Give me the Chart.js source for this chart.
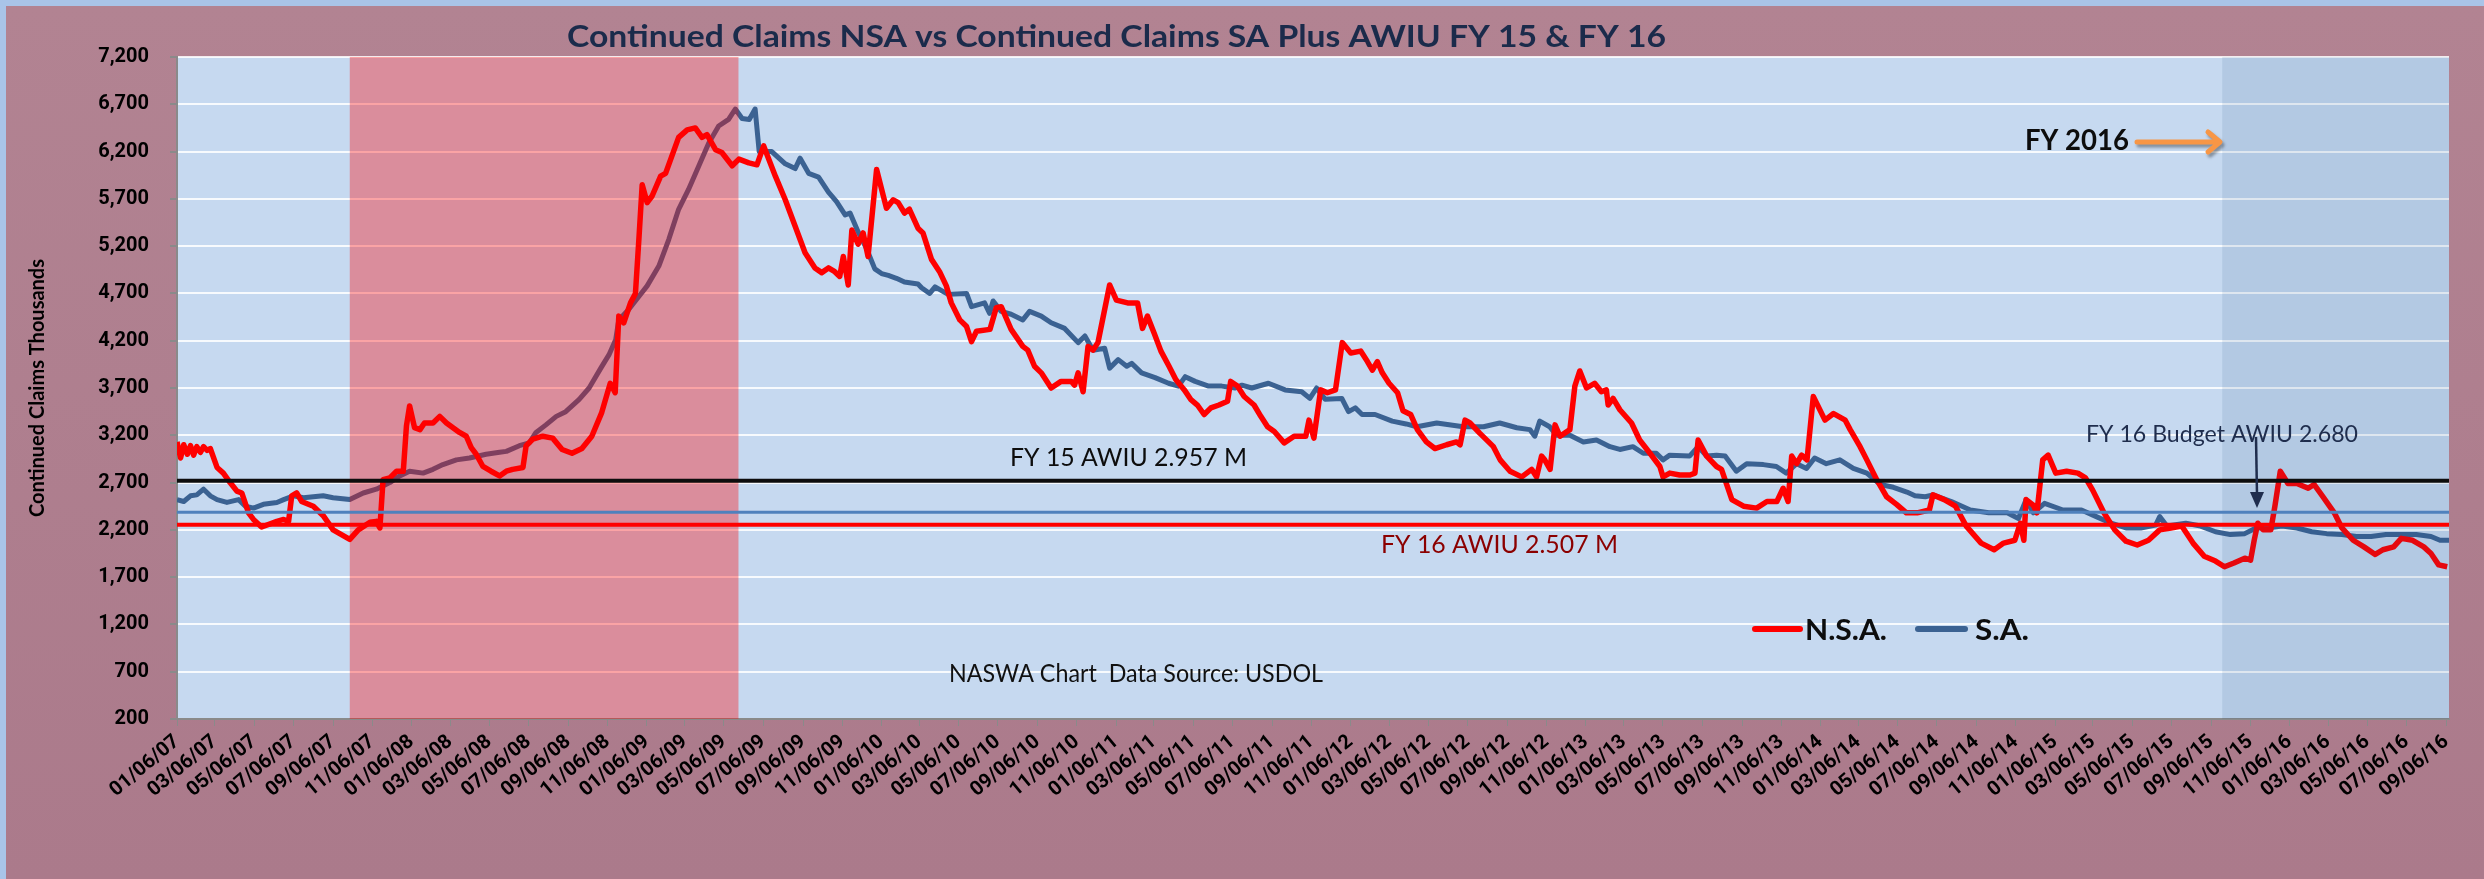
<!DOCTYPE html>
<html>
<head>
<meta charset="utf-8">
<script src="https://cdn.jsdelivr.net/npm/chart.js@4.4.1/dist/chart.umd.min.js"></script>
<style>
  html, body { margin: 0; padding: 0; background: #a9c4e8; overflow: hidden; }
  canvas { display: block; }
</style>
</head>
<body>
<canvas id="claims" width="2484" height="879"></canvas>
<script>
'use strict';
// ---------- Continued claims NSA vs SA, with AWIU reference lines ----------
// Values are thousands of claims.
// Positions on the time axis are weeks counted from 01/06/07.

const xTickLabels = [
    '01/06/07', '03/06/07', '05/06/07', '07/06/07', '09/06/07', '11/06/07',
    '01/06/08', '03/06/08', '05/06/08', '07/06/08', '09/06/08', '11/06/08',
    '01/06/09', '03/06/09', '05/06/09', '07/06/09', '09/06/09', '11/06/09',
    '01/06/10', '03/06/10', '05/06/10', '07/06/10', '09/06/10', '11/06/10',
    '01/06/11', '03/06/11', '05/06/11', '07/06/11', '09/06/11', '11/06/11',
    '01/06/12', '03/06/12', '05/06/12', '07/06/12', '09/06/12', '11/06/12',
    '01/06/13', '03/06/13', '05/06/13', '07/06/13', '09/06/13', '11/06/13',
    '01/06/14', '03/06/14', '05/06/14', '07/06/14', '09/06/14', '11/06/14',
    '01/06/15', '03/06/15', '05/06/15', '07/06/15', '09/06/15', '11/06/15',
    '01/06/16', '03/06/16', '05/06/16', '07/06/16', '09/06/16',
];
const lastDate = '09/10/16';

// N.S.A. (not seasonally adjusted)
const nsaWeeks = [
    0, 0.8, 1.5, 2.3, 3, 3.7, 4.4, 5.2, 5.9, 6.7, 7.4, 8.9, 10.3, 11.8, 13.3, 14.4, 15.9, 17, 18.8,
    22.2, 23.7, 24.8, 25.5, 26.6, 27.7, 30.3, 32.5, 34.7, 38.4, 40.3, 42.9, 44.3, 45.1, 45.8, 47.3,
    48.8, 50.3, 51, 51.7, 52.8, 54, 55, 56.9, 58.4, 59.9, 62.8, 64.3, 65.4, 66.5, 68, 69.8, 71.7,
    73.2, 74.6, 76.9, 77.6, 79.1, 81.3, 83.5, 85.6, 87.8, 90, 92.2, 94.4, 96.3, 97.4, 98.2, 99.3,
    100.8, 101.9, 102.7, 103.4, 104.5, 105.6, 107.5, 108.6, 111.5, 113.4, 115.2, 116.7, 117.8,
    119.7, 121.1, 123.4, 124.9, 127.1, 128.9, 130.4, 133, 135.2, 137.4, 139.6, 141.8, 143.3, 144.8,
    146.2, 147.3, 148.1, 149.2, 150, 151.4, 152.5, 153.6, 155.5, 157.7, 159.2, 160.3, 161.7, 162.8,
    164.7, 165.8, 167.7, 169.5, 171, 172.1, 174, 175.5, 176.6, 177.7, 180.7, 182.1, 183.2, 185.4,
    188, 189.1, 190.6, 192.1, 194.3, 196.5, 198.8, 199.5, 200.3, 201.4, 202.5, 203.6, 204.7, 207.3,
    208.8, 211.3, 213.5, 214.6, 215.7, 217.2, 218.7, 220.5, 222, 223.9, 225.3, 226.8, 228.3, 229.8,
    231.6, 233.5, 234.2, 235.7, 237.2, 239.4, 240.9, 242.4, 243.9, 246.1, 248.3, 250.9, 251.6,
    252.7, 254.2, 255.7, 257.5, 259, 260.9, 263.1, 264.6, 265.7, 266.8, 267.9, 269.4, 271.3, 272.5,
    274.2, 275.7, 277.7, 279.6, 282.2, 284.4, 285.2, 286.3, 287.4, 289.6, 292.6, 294.1, 296.3,
    298.9, 301.1, 302.2, 303.3, 304, 305.2, 306.3, 307.4, 309.6, 310.7, 311.8, 313.3, 315.1, 316.6,
    317.7, 318.1, 319.2, 320.7, 323.3, 325.1, 327.4, 329.6, 330.3, 331.8, 334, 336.3, 337.4, 338.1,
    340, 342.2, 343.3, 345.6, 348.2, 351.1, 353.4, 355.6, 357, 358.1, 358.9, 360, 361.1, 362.3,
    363.7, 366.3, 368.2, 370.8, 371.9, 374.1, 375.6, 377.8, 380, 382.2, 384.4, 386.8, 389.5, 390.3,
    392.8, 395.3, 397.7, 401, 403.9, 406, 408.5, 409.7, 410.5, 411, 412.6, 413.4, 414.7, 415.9,
    417.6, 420, 422.5, 424.2, 425.8, 428.3, 430.7, 433.2, 435.7, 438.2, 440.7, 443.2, 445.6, 448.1,
    450.6, 453.1, 455.1, 457.2, 459.6, 460.9, 461.7, 462.5, 463.7, 465.4, 466.3, 467.5, 469.2,
    471.2, 473.7, 475, 477, 479.5, 481.2, 483.7, 486.1, 488.6, 490.3, 492.7, 494.4, 496.9, 499.4,
    501, 502.7, 504.6,
];
const nsaValues = [
    3130, 2960, 3100, 3000, 3090, 2990, 3080, 3020, 3080, 3040, 3060, 2860, 2800, 2700, 2610, 2590, 2380, 2310, 2230,
    2290, 2310, 2290, 2560, 2590, 2500, 2450, 2350, 2200, 2100, 2200, 2280, 2290, 2220, 2730, 2750,
    2820, 2820, 3300, 3510, 3280, 3260, 3330, 3330, 3400, 3330, 3230, 3190, 3070, 3000, 2870, 2820, 2770,
    2820, 2840, 2860, 3090, 3160, 3190, 3170, 3050, 3010, 3060, 3190, 3440, 3750, 3650, 4460, 4390,
    4600, 4700, 5300, 5850, 5660, 5730, 5940, 5970, 6350, 6430, 6450, 6350, 6380,
    6220, 6190, 6050, 6120, 6080, 6060, 6260, 5940, 5690, 5410, 5130, 4970, 4920, 4970,
    4930, 4880, 5090, 4790, 5370, 5220, 5340, 5090, 6010, 5600, 5690, 5660, 5550, 5590,
    5390, 5340, 5060, 4930, 4780, 4600, 4420, 4350, 4190, 4300, 4320, 4550, 4560, 4320,
    4140, 4100, 3930, 3860, 3700, 3770, 3770, 3730, 3860, 3660, 4140, 4100, 4180, 4790,
    4630, 4600, 4600, 4330, 4460, 4280, 4090, 3930, 3790, 3680, 3580, 3520, 3420, 3490,
    3520, 3560, 3770, 3720, 3610, 3520, 3400, 3290, 3240, 3120, 3190, 3190, 3360,
    3170, 3680, 3650, 3680, 4180, 4070, 4090, 3980, 3890, 3980, 3860, 3750, 3650, 3460,
    3420, 3260, 3130, 3060, 3100, 3130, 3100, 3360, 3330, 3220, 3080, 2940, 2820,
    2760, 2840, 2760, 2980, 2940, 2840, 3310, 3190, 3260, 3720, 3880, 3700, 3750, 3660,
    3680, 3520, 3590, 3470, 3330, 3150, 3010, 2870, 2760, 2800, 2780, 2780, 2800, 3150,
    2980, 2870, 2840, 2520, 2450, 2430, 2500, 2500, 2640, 2500, 2980, 2900, 2990, 2940,
    3610, 3360, 3430, 3360, 3260, 3080, 2940, 2730, 2550, 2470, 2380, 2380, 2410, 2570,
    2520, 2450, 2240, 2060, 1990, 2060, 2090, 2270, 2090, 2520, 2460, 2380, 2940, 2990,
    2800, 2820, 2800, 2750, 2620, 2380, 2200, 2080, 2040, 2090, 2200, 2220, 2240, 2060,
    1920, 1870, 1810, 1850, 1900, 1880, 2090, 2270, 2200, 2200, 2450, 2820, 2690,
    2690, 2640, 2680, 2550, 2380, 2220, 2090, 2020, 1940, 1990, 2020, 2110, 2090, 2020,
    1950, 1830, 1810,
];

// S.A. (seasonally adjusted)
const saWeeks = [
    0, 1.5, 3, 4.4, 5.9, 7.4, 8.9, 11.1, 13.7, 15.2, 17, 19.2, 22.2, 23.7, 25.9, 28.1, 32.5, 34.7,
    38.4, 41.4, 44.3, 47.3, 49.5, 51.7, 54.7, 56.9, 59.1, 62.1, 65, 68.7, 71.7, 73.2, 76.1, 78.3,
    79.8, 82, 84.3, 86.4, 89.4, 91.6, 94.2, 96, 97.5, 98.2, 100.4, 102.7, 104.5, 107.1, 109.3, 111.5,
    113.7, 116, 118.2, 120.4, 122.6, 124.1, 125.6, 127.2, 128.5, 129.4, 132.2, 135.2, 137.4, 138.5,
    140.4, 142.6, 144.8, 146.6, 148.5, 149.6, 151.4, 153.3, 155.1, 156.6, 158.1, 159.9, 161.7,
    164.7, 165.5, 167.3, 168.5, 171.4, 175.5, 176.6, 179.5, 180.6, 181.4, 183.2, 185.4, 188, 189.5,
    192.1, 194.3, 197.3, 200.3, 201.8, 203.6, 206.2, 207.3, 209.2, 211.1, 212.2, 214.4, 217.4,
    220.4, 222.6, 224.1, 226.3, 229.3, 232.2, 235.2, 236.7, 238.9, 242.6, 246.3, 250, 251.8, 253.3,
    255.2, 258.9, 260.4, 261.9, 263.4, 266.3, 270.1, 273.2, 275.6, 280, 285.9, 290.4, 294, 297.8,
    300.7, 301.8, 302.9, 305.1, 306.6, 309.6, 312.6, 315.5, 318.5, 320.7, 323.6, 325.9, 328.8,
    330.3, 331.8, 336.2, 338.1, 340, 342.2, 344.1, 346.6, 348.9, 352.6, 355.5, 357.7, 360, 362.2,
    364, 366.6, 369.6, 372.6, 375.6, 378.6, 381.5, 384.5, 386.3, 388.6, 390.3, 394.4, 398.6, 402.7,
    406.8, 409.3, 411, 412.6, 415.1, 419.2, 423.3, 426.6, 429.9, 433.2, 436.5, 439.8, 440.7, 442.3,
    446.5, 449.8, 453.1, 456.4, 459.6, 462.1, 464.6, 467.9, 471.2, 474.5, 477.8, 481.2, 484.4,
    487.7, 491, 494.4, 497.7, 501, 503, 505,
];
const saValues = [
    2520, 2500, 2560, 2570, 2630, 2560, 2520, 2490, 2520, 2450, 2430, 2470, 2490, 2520, 2560, 2540, 2560, 2540,
    2520, 2590, 2630, 2700, 2770, 2820, 2800, 2840, 2890, 2940, 2960, 3000, 3020, 3030, 3090, 3120,
    3230, 3310, 3400, 3450, 3580, 3700, 3910, 4050, 4210, 4420, 4530, 4670, 4780, 4990, 5270, 5590,
    5800, 6050, 6290, 6470, 6540, 6650, 6550, 6540, 6650, 6200, 6200, 6070, 6020, 6130,
    5970, 5930, 5770, 5670, 5530, 5550, 5350, 5170, 4960, 4910, 4890, 4860, 4820,
    4800, 4760, 4700, 4770, 4690, 4700, 4560, 4600, 4490, 4620, 4510, 4480, 4420, 4510,
    4460, 4390, 4330, 4180, 4250, 4100, 4120, 3910, 4000, 3930, 3960, 3860, 3810,
    3750, 3720, 3820, 3770, 3720, 3720, 3700, 3730, 3700, 3750, 3680, 3660, 3590, 3700,
    3580, 3590, 3450, 3490, 3420, 3420, 3350, 3320, 3290, 3330, 3290, 3290, 3330, 3280,
    3260, 3190, 3350, 3290, 3200, 3200, 3130, 3150, 3080, 3050, 3080, 3010, 3010,
    2940, 2990, 2980, 3080, 2980, 2990, 2980, 2820, 2900, 2890, 2870, 2800, 2900, 2850,
    2960, 2900, 2940, 2850, 2800, 2680, 2650, 2600, 2560, 2550, 2570, 2500, 2410, 2380,
    2380, 2320, 2520, 2380, 2480, 2410, 2410, 2340, 2270, 2220, 2220, 2250, 2340, 2240,
    2270, 2240, 2180, 2150, 2160, 2220, 2220, 2240, 2220, 2180, 2160, 2150, 2130,
    2130, 2150, 2150, 2150, 2130, 2090, 2090,
];

// Horizontal reference lines, at the heights they are drawn in the source
const fy15AwiuLine = 2720;
const budgetAwiuLine = 2385;
const fy16AwiuLine = 2255;

// Shaded spans, in weeks
const recessionSpan = [38.4, 124.8];
const fy2016Span = [454.6, 505];

// ---------- helpers ----------
const startMs = Date.UTC(2007, 0, 6);
const weekOf = s => {
    const [m, d, y] = s.split('/').map(Number);
    return (Date.UTC(2000 + y, m - 1, d) - startMs) / (7 * 86400000);
};
const tickWeeks = xTickLabels.map(weekOf);
const xMax = weekOf(lastDate);

const toPoints = (weeks, vals) => weeks.map((w, i) => ({ x: w, y: vals[i] }));
const flatLine = v => [{ x: 0, y: v }, { x: xMax, y: v }];

// Draw text squeezed/stretched to a given width (source uses a narrow font)
function fitText(ctx, text, x, baseline, font, color, width) {
    ctx.save();
    ctx.font = font;
    ctx.fillStyle = color;
    ctx.textAlign = 'left';
    ctx.textBaseline = 'alphabetic';
    const w = ctx.measureText(text).width;
    ctx.translate(x, baseline);
    ctx.scale(width / w, 1);
    ctx.fillText(text, 0, 0);
    ctx.restore();
}

const decor = {
    id: 'decor',
    beforeDraw(chart) {
        const { ctx, width, height, chartArea: a } = chart;
        ctx.save();
        ctx.fillStyle = '#a9c4e8';
        ctx.fillRect(0, 0, width, height);
        const g = ctx.createLinearGradient(0, 6, 0, height);
        g.addColorStop(0, '#b28392');
        g.addColorStop(1, '#ab7a8b');
        ctx.fillStyle = g;
        ctx.fillRect(6, 6, width - 6, height - 6);
        ctx.fillStyle = '#c6d9f0';
        ctx.fillRect(a.left, a.top, a.right - a.left, a.bottom - a.top);
        ctx.restore();
    },
    // shading goes over the claims lines but under the reference lines
    afterDatasetDraw(chart, args) {
        if (args.index !== 3) return;
        const { ctx, chartArea: a, scales: { x } } = chart;
        ctx.save();
        let x0 = x.getPixelForValue(recessionSpan[0]);
        let x1 = x.getPixelForValue(recessionSpan[1]);
        ctx.fillStyle = 'rgba(255, 0, 0, 0.35)';
        ctx.fillRect(x0, a.top, x1 - x0, a.bottom - a.top);
        x0 = x.getPixelForValue(fy2016Span[0]);
        x1 = Math.min(x.getPixelForValue(fy2016Span[1]), a.right);
        ctx.fillStyle = 'rgba(31, 73, 125, 0.11)';
        ctx.fillRect(x0, a.top, x1 - x0, a.bottom - a.top);
        ctx.restore();
    },
    afterDraw(chart) {
        const { ctx } = chart;

        fitText(ctx, 'Continued Claims NSA vs Continued Claims SA Plus AWIU FY 15 & FY 16',
            567, 47, 'bold 31px Lato', '#1b2b4b', 1099);
        fitText(ctx, 'FY 15 AWIU 2.957 M', 1010, 466, '25px Lato', '#0d0d0d', 237);
        fitText(ctx, 'FY 16 AWIU 2.507 M', 1381, 553, '25px Lato', '#8b0000', 237);
        fitText(ctx, 'NASWA Chart  Data Source: USDOL', 949, 682, '25px Lato', '#111111', 374);
        fitText(ctx, 'FY 2016', 2025, 150, 'bold 28px Lato', '#0d0d0d', 104);
        fitText(ctx, 'FY 16 Budget AWIU 2.680', 2086, 442, '24px Lato', '#1f2d4d', 272);

        // orange arrow next to FY 2016
        ctx.save();
        ctx.shadowColor = 'rgba(0,0,0,0.35)';
        ctx.shadowBlur = 3;
        ctx.shadowOffsetX = 2;
        ctx.shadowOffsetY = 3;
        ctx.strokeStyle = '#f79646';
        ctx.lineWidth = 5;
        ctx.lineCap = 'round';
        ctx.lineJoin = 'round';
        ctx.beginPath();
        ctx.moveTo(2137, 142);
        ctx.lineTo(2219, 142);
        ctx.moveTo(2208, 132);
        ctx.lineTo(2220, 142);
        ctx.lineTo(2208, 152);
        ctx.stroke();
        ctx.restore();

        // budget arrow pointing down at the budget line
        ctx.save();
        ctx.strokeStyle = '#1f2d4d';
        ctx.fillStyle = '#1f2d4d';
        ctx.lineWidth = 2.5;
        ctx.beginPath();
        ctx.moveTo(2256, 437);
        ctx.lineTo(2257, 495);
        ctx.stroke();
        ctx.beginPath();
        ctx.moveTo(2250, 492);
        ctx.lineTo(2264, 492);
        ctx.lineTo(2257, 508);
        ctx.closePath();
        ctx.fill();
        ctx.restore();

        // legend
        ctx.save();
        ctx.lineCap = 'round';
        ctx.lineWidth = 6;
        ctx.strokeStyle = '#ff0000';
        ctx.beginPath();
        ctx.moveTo(1755, 629);
        ctx.lineTo(1800, 629);
        ctx.stroke();
        ctx.strokeStyle = '#3b6292';
        ctx.beginPath();
        ctx.moveTo(1918, 629);
        ctx.lineTo(1965, 629);
        ctx.stroke();
        ctx.restore();
        fitText(ctx, 'N.S.A.', 1805, 640, 'bold 28px Lato', '#0d0d0d', 82);
        fitText(ctx, 'S.A.', 1975, 640, 'bold 28px Lato', '#0d0d0d', 54);
    },
};

function makeChart() {
    const refLine = (label, v, color, width) => ({
        label, data: flatLine(v), borderColor: color, borderWidth: width,
        pointRadius: 0, tension: 0, fill: false,
    });

    new Chart(document.getElementById('claims'), {
        type: 'line',
        data: {
            datasets: [
                refLine('FY 15 AWIU', fy15AwiuLine, '#0d0d0d', 4),
                refLine('FY 16 Budget AWIU', budgetAwiuLine, '#4f81bd', 3),
                refLine('FY 16 AWIU', fy16AwiuLine, '#ff0000', 4),
                {
                    label: 'N.S.A.',
                    data: toPoints(nsaWeeks, nsaValues),
                    borderColor: '#ff0000',
                    borderWidth: 5.5,
                    borderJoinStyle: 'round',
                    pointRadius: 0,
                    tension: 0,
                },
                {
                    label: 'S.A.',
                    data: toPoints(saWeeks, saValues),
                    borderColor: '#3b6292',
                    borderWidth: 5,
                    borderJoinStyle: 'round',
                    pointRadius: 0,
                    tension: 0,
                },
            ],
        },
        options: {
            responsive: false,
            animation: false,
            devicePixelRatio: 1,
            layout: { padding: { top: 57, right: 35, left: 0, bottom: 0 } },
            plugins: {
                legend: { display: false },
                tooltip: { enabled: false },
                title: { display: false },
            },
            scales: {
                x: {
                    type: 'linear',
                    min: 0,
                    max: xMax,
                    afterBuildTicks: s => { s.ticks = tickWeeks.map(v => ({ value: v })); },
                    afterFit: s => { s.height = 160; },
                    ticks: {
                        autoSkip: false,
                        minRotation: 40,
                        maxRotation: 40,
                        padding: 4,
                        color: '#000',
                        font: { family: 'Roboto', weight: 'bold', size: 20 },
                        callback: (v, i) => xTickLabels[i],
                    },
                    grid: { drawOnChartArea: false, drawTicks: true, tickLength: 7, tickColor: '#8a8a8a' },
                    border: { display: true, color: '#8a8a8a', width: 2 },
                },
                y: {
                    min: 200,
                    max: 7200,
                    afterFit: s => { s.width = 177; },
                    ticks: {
                        stepSize: 500,
                        padding: 21,
                        color: '#000',
                        font: { family: 'Roboto', weight: 'bold', size: 20 },
                        callback: v => v.toLocaleString('en-US'),
                    },
                    grid: { color: 'rgba(255,255,255,0.85)', lineWidth: 2, tickColor: '#8a8a8a', tickLength: 7 },
                    border: { display: true, color: '#8a8a8a', width: 2 },
                    title: {
                        display: true,
                        text: 'Continued Claims Thousands',
                        color: '#000',
                        font: { family: 'Lato', weight: 'bold', size: 20 },
                        padding: { top: 26, bottom: 0 },
                    },
                },
            },
        },
        plugins: [decor],
    });
}

Promise.all([
    document.fonts.load('bold 20px Roboto'),
    document.fonts.load('bold 20px Lato'),
    document.fonts.load('25px Lato'),
]).then(makeChart, makeChart);
</script>
</body>
</html>
